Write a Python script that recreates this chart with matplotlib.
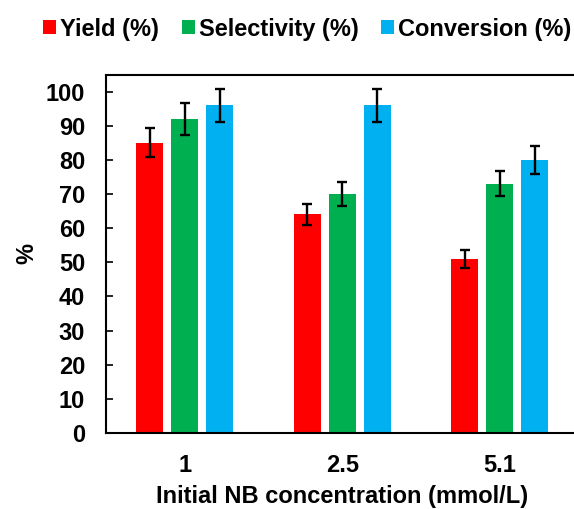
import matplotlib.pyplot as plt
import numpy as np

plt.rcParams['font.family'] = ['Liberation Sans', 'DejaVu Sans']
plt.rcParams['font.weight'] = 'bold'

# NB concentrations and measured percentages
conc = ['1', '2.5', '5.1']
yield_pct = [85, 64, 51]
select_pct = [92, 70, 73]
conv_pct = [96, 96, 80]
yield_err = [4.25, 3.2, 2.55]
select_err = [4.6, 3.5, 3.65]
conv_err = [4.8, 4.8, 4.0]

series = [
    ('Yield (%)', yield_pct, yield_err, '#FF0000'),
    ('Selectivity (%)', select_pct, select_err, '#00B050'),
    ('Conversion (%)', conv_pct, conv_err, '#00B0F0'),
]

fig = plt.figure(figsize=(5.74, 5.09), dpi=100)
ax = fig.add_axes([106 / 574, 76 / 509, 472.5 / 574, 358.5 / 509])

x = np.arange(len(conc))
w = 0.171
step = 0.222
for i, (name, vals, err, col) in enumerate(series):
    ax.bar(x + (i - 1) * step, vals, w, color=col, label=name,
           yerr=err, capsize=3.8, error_kw=dict(elinewidth=1.7, capthick=1.7, ecolor='black'))

ax.set_xlim(-0.5, 2.5)
ax.set_ylim(0, 105)
ax.set_yticks(range(0, 101, 10))
ax.set_xticks(x)
ax.set_xticklabels(conc)
ax.tick_params(axis='y', direction='in', length=5, width=1.2, labelsize=17, pad=15)
ax.tick_params(axis='x', length=0, labelsize=17, pad=15)
for s in ax.spines.values():
    s.set_linewidth(1.5)

ax.set_xlabel('Initial NB concentration (mmol/L)', fontsize=17, fontweight='bold', labelpad=6)
ax.set_ylabel('%', fontsize=17, fontweight='bold', labelpad=5)

fig.legend(loc='upper center', bbox_to_anchor=(0.535, 1.0), ncol=3, frameon=False,
           fontsize=17, handlelength=0.55, handleheight=0.55, handletextpad=0.17,
           columnspacing=0.95, borderaxespad=0.35)

fig.savefig('out.png', dpi=100)
